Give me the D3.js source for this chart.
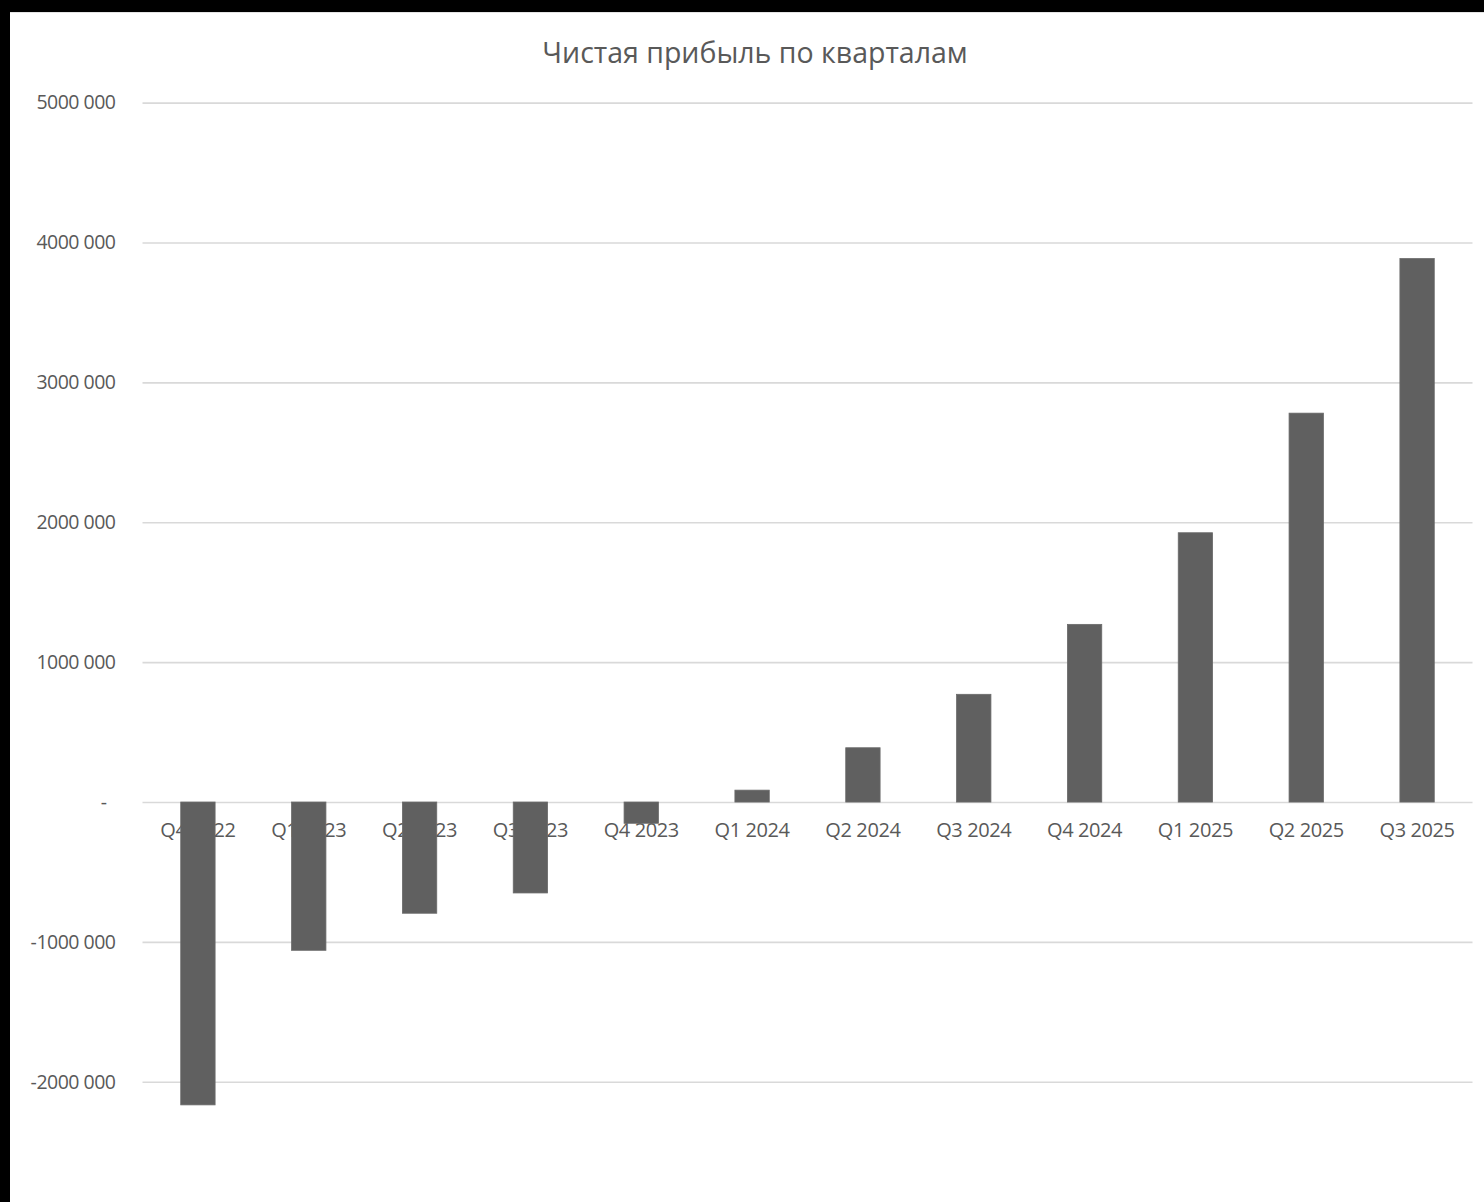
<!DOCTYPE html>
<html>
<head>
<meta charset="utf-8">
<script src="https://cdn.jsdelivr.net/npm/d3@7"></script>
<style>
  html, body { margin: 0; padding: 0; background: #000; }
  svg { display: block; }
  text { font-family: "Open Sans", "Noto Sans", sans-serif; fill: #595959; }
</style>
</head>
<body>
<svg id="chart" width="1484" height="1202"></svg>
<script>
const title = "Чистая прибыль по кварталам";
const categories = ["Q4 2022", "Q1 2023", "Q2 2023", "Q3 2023", "Q4 2023", "Q1 2024",
                    "Q2 2024", "Q3 2024", "Q4 2024", "Q1 2025", "Q2 2025", "Q3 2025"];
const values = [-2165000, -1060000, -795000, -650000, -152000, 85000,
                388000, 770000, 1270000, 1925000, 2780000, 3885000];
const tickValues = [-2000000, -1000000, 0, 1000000, 2000000, 3000000, 4000000, 5000000];
const tickLabels = ["-2000 000", "-1000 000", "-", "1000 000", "2000 000", "3000 000", "4000 000", "5000 000"];

const svg = d3.select("#chart");

// white chart area with black frame at top/left
svg.append("rect").attr("x", 0).attr("y", 0).attr("width", 1484).attr("height", 1202).attr("fill", "#000");
svg.append("rect").attr("x", 10).attr("y", 12).attr("width", 1474).attr("height", 1190).attr("fill", "#fff");
svg.append("line").attr("x1", 10).attr("x2", 1484).attr("y1", 12.5).attr("y2", 12.5)
   .attr("stroke", "#e4e4e4").attr("stroke-width", 1);

const left = 142.5, right = 1472.5;
const x = d3.scaleBand().domain(categories).range([left, right]).paddingInner(0.69).paddingOuter(0.345);
const y = d3.scaleLinear().domain([-2000000, 5000000]).range([1081.8, 102.6]);

// gridlines
const yAxis = d3.axisLeft(y).tickValues(tickValues)
  .tickFormat((d, i) => tickLabels[i])
  .tickSize(-(right - left)).tickPadding(27);
const gy = svg.append("g").attr("transform", `translate(${left},0)`).call(yAxis);
gy.select(".domain").remove();
gy.selectAll(".tick line").attr("stroke", "#d9d9d9").attr("stroke-width", 1.6);
gy.selectAll(".tick text").attr("font-size", 19.5).attr("fill", "#595959")
  .attr("dx", d => d === 0 ? -9 : 0)
  .style("letter-spacing", "-0.5px");

// x labels (drawn under bars, as in reference)
const xAxis = d3.axisBottom(x).tickSize(0).tickPadding(21);
const gx = svg.append("g").attr("transform", `translate(0,${y(0)})`).call(xAxis);
gx.select(".domain").remove();
gx.selectAll(".tick text").attr("font-size", 20).attr("fill", "#595959")
  .style("letter-spacing", "-0.4px");

// bars
svg.append("g").selectAll("rect").data(values).join("rect")
  .attr("x", (d, i) => x(categories[i]))
  .attr("width", x.bandwidth())
  .attr("y", d => Math.min(y(d), y(0)))
  .attr("height", d => Math.abs(y(d) - y(0)))
  .attr("fill", "#606060")
  .attr("stroke", "#6a6a6a").attr("stroke-width", 0.8);

// title
svg.append("text").attr("x", 755).attr("y", 63)
  .attr("text-anchor", "middle").attr("font-size", 28.5).attr("fill", "#595959")
  .text(title);
</script>
</body>
</html>
